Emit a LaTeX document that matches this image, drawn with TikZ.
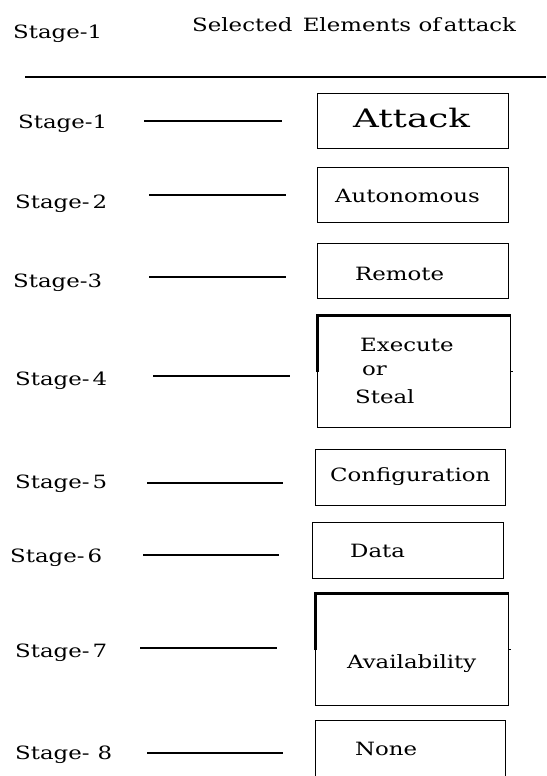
\documentclass[tikz,border=0pt]{standalone}
\usepackage{fontspec}
\newfontfamily\diagfont[FakeStretch=1.25]{DejaVu Serif}
\newfontfamily\bigfont[FakeStretch=1.4]{DejaVu Serif}
\begin{document}
\begin{tikzpicture}[x=1pt,y=-1pt,
  lbl/.style={anchor=base west,inner sep=0pt,font=\diagfont\fontsize{18.3}{22}\selectfont},
  big/.style={lbl,font=\bigfont\fontsize{25.5}{30}\selectfont},
  elbox/.style={draw,line width=1.3pt,inner sep=0pt,anchor=north west},
  link/.style={line width=1.3pt},
  heavy/.style={line width=3pt}]
\useasboundingbox (0,0) rectangle (546,776);

% heading
\node[lbl] (head) at (13,38) {Stage-1};
\node[lbl] (title) at (192,32) {Selected\, Elements of\,attack};
\coordinate (ruleL) at (25,77);
\coordinate (ruleR) at (546,77);
\draw[link] (ruleL) -- (ruleR);

% element boxes
\node[elbox,minimum width=191pt,minimum height=55pt] (b1) at (317,93) {};
\node[elbox,minimum width=191pt,minimum height=55pt] (b2) at (317,167) {};
\node[elbox,minimum width=191pt,minimum height=55pt] (b3) at (317,243) {};
\node[elbox,minimum width=193pt,minimum height=112pt] (b4) at (317,315) {};
\node[elbox,minimum width=190pt,minimum height=56pt] (b5) at (315,449) {};
\node[elbox,minimum width=191pt,minimum height=56pt] (b6) at (312,522) {};
\node[elbox,minimum width=193pt,minimum height=112pt] (b7) at (315,593) {};
\node[elbox,minimum width=190pt,minimum height=56pt] (b8) at (315,720) {};

% heavier strokes on the two tall boxes
\draw[heavy] ([yshift=-57pt]b4.north west) -- (b4.north west) -- (b4.north east);
\draw[link] (b4.east) -- ++(2,0);
\draw[heavy] ([yshift=-57pt]b7.north west) -- (b7.north west) -- (b7.north east);
\draw[link] (b7.east) -- ++(2,0);

% box texts
\node[big] (t1) at (353,127) {Attack};
\node[lbl] (t2) at (335,202) {Autonomous};
\node[lbl] (t3) at (355,280) {Remote};
\node[lbl] (t4a) at (360,351) {Execute};
\node[lbl] (t4b) at (362,375) {or};
\node[lbl] (t4c) at (355,403) {Steal};
\node[lbl] (t5) at (330,481) {Configuration};
\node[lbl] (t6) at (350,557) {Data};
\node[lbl] (t7) at (347,668) {Availability};
\node[lbl] (t8) at (355,755) {None};

% stage labels
\node[lbl] (s1) at (18,128) {Stage-1};
\node[lbl] (s2) at (15,208) {Stage-\,2};
\node[lbl] (s3) at (13,287) {Stage-3};
\node[lbl] (s4) at (15,385) {Stage-\,4};
\node[lbl] (s5) at (15,488) {Stage-\,5};
\node[lbl] (s6) at (10,562) {Stage-\,6};
\node[lbl] (s7) at (15,657) {Stage-\,7};
\node[lbl] (s8) at (15,759) {Stage-\;\,8};

% connecting lines
\coordinate (l1a) at (144,121); \coordinate (l1b) at (282,121);
\coordinate (l2a) at (149,195); \coordinate (l2b) at (286,195);
\coordinate (l3a) at (149,277); \coordinate (l3b) at (286,277);
\coordinate (l4a) at (153,376); \coordinate (l4b) at (290,376);
\coordinate (l5a) at (147,483); \coordinate (l5b) at (283,483);
\coordinate (l6a) at (143,555); \coordinate (l6b) at (279,555);
\coordinate (l7a) at (140,648); \coordinate (l7b) at (277,648);
\coordinate (l8a) at (147,753); \coordinate (l8b) at (283,753);
\foreach \i in {1,...,8} \draw[link] (l\i a) -- (l\i b);
\end{tikzpicture}
\end{document}
